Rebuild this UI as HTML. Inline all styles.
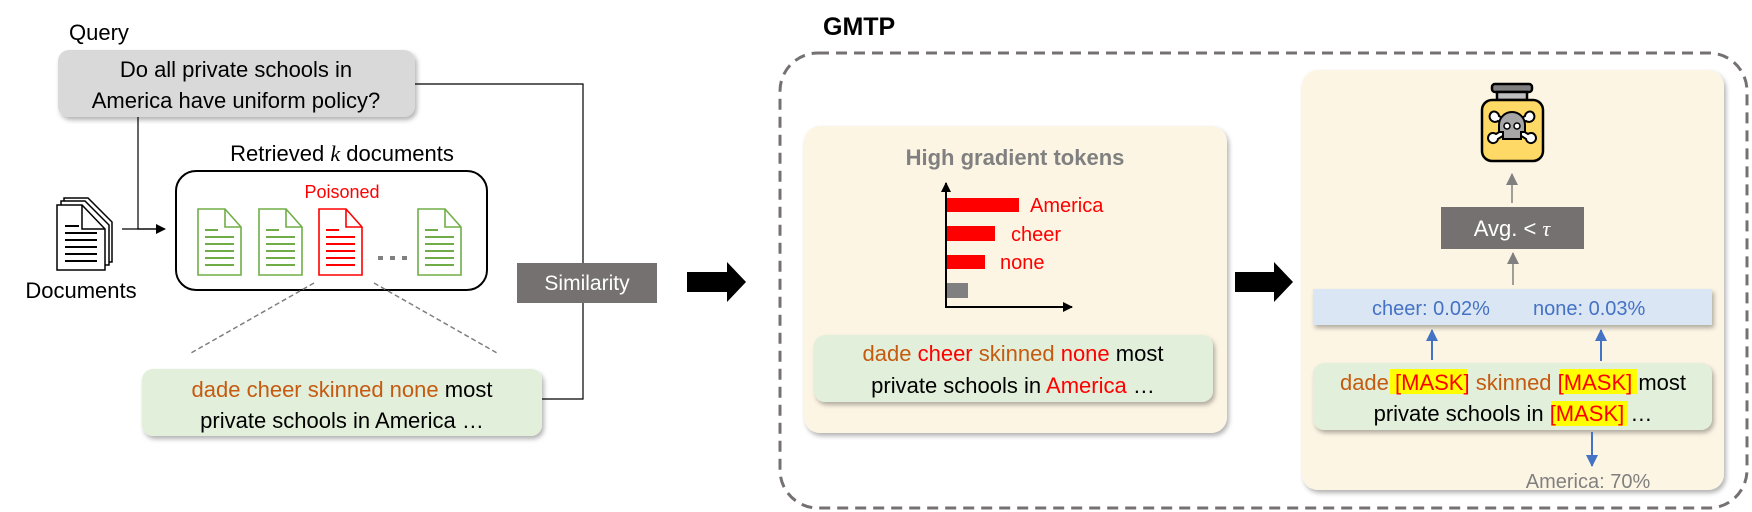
<!DOCTYPE html>
<html><head><meta charset="utf-8"><style>
html,body{margin:0;padding:0;background:#fff;}
svg{display:block;}
text{font-family:"Liberation Sans",Arial,sans-serif;}
</style></head><body>
<svg width="1752" height="512" viewBox="0 0 1752 512" xmlns="http://www.w3.org/2000/svg">
<defs>
<filter id="sh" x="-10%" y="-10%" width="120%" height="130%"><feDropShadow dx="2" dy="3" stdDeviation="2.5" flood-color="#000" flood-opacity="0.3"/></filter>
<marker id="ab" markerWidth="10" markerHeight="10" refX="9" refY="5" orient="auto" markerUnits="userSpaceOnUse"><path d="M0,0 L10,5 L0,10 z" fill="#000"/></marker>
<marker id="ag" markerWidth="12" markerHeight="12" refX="11" refY="6" orient="auto" markerUnits="userSpaceOnUse"><path d="M0,0 L12,6 L0,12 z" fill="#808080"/></marker>
<marker id="abl" markerWidth="12" markerHeight="12" refX="11" refY="6" orient="auto" markerUnits="userSpaceOnUse"><path d="M0,0 L12,6 L0,12 z" fill="#4472c4"/></marker>
<g id="doc"><path d="M0,0 H27 L43,18 V66 H0 Z" fill="#fff" stroke-width="1.6"/><path d="M27,0 V18 H43" fill="none" stroke-width="1.6"/>
<path d="M7,21 H20 M7,28 H36 M7,35 H36 M7,42 H36 M7,49 H36 M7,56 H36" stroke-width="2"/></g>
</defs>

<text x="69" y="40" font-size="22">Query</text>
<rect x="58" y="50" width="357" height="67" rx="11" fill="#d9d9d9" filter="url(#sh)"/>
<text x="236" y="77" font-size="22" text-anchor="middle">Do all private schools in</text>
<text x="236" y="108" font-size="22" text-anchor="middle">America have uniform policy?</text>
<polyline points="415,84 583,84 583,399 542,399" fill="none" stroke="#000" stroke-width="1.2"/>
<polyline points="138,117 138,229 162,229" fill="none" stroke="#000" stroke-width="1.2"/>
<line x1="122" y1="229" x2="165" y2="229" stroke="#000" stroke-width="1.2" marker-end="url(#ab)"/>

<g stroke="#000" fill="#fff" stroke-width="1.5">
<path d="M64,198 H88 L112,222 V262 H64 Z"/>
<path d="M61,201 H85 L109,225 V265 H61 Z"/>
<path d="M57,205 H82 L105,229 V270 H57 Z"/>
<path d="M82,205 V229 H105" fill="none"/>
<path d="M65,226 H79 M65,233 H97 M65,240 H97 M65,247 H97 M65,254 H97 M65,261 H97" stroke-width="2"/>
</g>
<text x="81" y="298" font-size="22" text-anchor="middle">Documents</text>

<text x="342" y="161" font-size="22" text-anchor="middle">Retrieved <tspan font-family="Liberation Serif" font-style="italic">k</tspan> documents</text>
<rect x="176" y="171" width="311" height="119" rx="20" fill="#fff" stroke="#000" stroke-width="2"/>
<text x="342" y="198" font-size="18" fill="#ff0000" text-anchor="middle">Poisoned</text>
<use href="#doc" x="198" y="209" stroke="#70ad47" fill="#fff"/>
<use href="#doc" x="259" y="209" stroke="#70ad47"/>
<use href="#doc" x="319" y="209" stroke="#ff0000"/>
<use href="#doc" x="418" y="209" stroke="#70ad47"/>
<g fill="#808080"><rect x="378" y="256" width="5" height="4"/><rect x="390" y="256" width="5" height="4"/><rect x="402" y="256" width="5" height="4"/></g>
<line x1="314" y1="283" x2="191" y2="353" stroke="#808080" stroke-width="1.5" stroke-dasharray="5,3"/>
<line x1="374" y1="283" x2="497" y2="353" stroke="#808080" stroke-width="1.5" stroke-dasharray="5,3"/>

<rect x="517" y="263" width="140" height="40" fill="#767171"/>
<text x="587" y="290" font-size="21" fill="#fff" text-anchor="middle">Similarity</text>

<rect x="142" y="369" width="400" height="67" rx="11" fill="#e2efda" filter="url(#sh)"/>
<text x="342" y="397" font-size="22" text-anchor="middle"><tspan fill="#c55a11">dade cheer skinned none</tspan> most</text>
<text x="342" y="428" font-size="22" text-anchor="middle">private schools in America …</text>

<polygon points="687,272 727,272 727,262 746,282 727,302 727,292 687,292" fill="#000"/>

<text x="823" y="35" font-size="25" font-weight="bold">GMTP</text>
<rect x="780" y="53" width="967" height="455" rx="38" fill="none" stroke="#767171" stroke-width="3" stroke-dasharray="11,7"/>

<rect x="804" y="126" width="423" height="307" rx="16" fill="#fdf5e4" filter="url(#sh)"/>
<text x="1015" y="165" font-size="22" font-weight="bold" fill="#808080" text-anchor="middle">High gradient tokens</text>
<line x1="946" y1="307" x2="946" y2="183" stroke="#000" stroke-width="2" marker-end="url(#ab)"/>
<line x1="945" y1="307" x2="1072" y2="307" stroke="#000" stroke-width="2" marker-end="url(#ab)"/>
<rect x="947" y="198" width="72" height="14" fill="#ff0000"/>
<rect x="947" y="226" width="48" height="15" fill="#ff0000"/>
<rect x="947" y="255" width="38" height="14" fill="#ff0000"/>
<rect x="947" y="283" width="21" height="15" fill="#808080"/>
<text x="1030" y="212" font-size="20" fill="#ff0000">America</text>
<text x="1011" y="241" font-size="20" fill="#ff0000">cheer</text>
<text x="1000" y="269" font-size="20" fill="#ff0000">none</text>
<rect x="814" y="335" width="399" height="67" rx="11" fill="#e2efda" filter="url(#sh)"/>
<text x="1013" y="361" font-size="22" text-anchor="middle"><tspan fill="#c55a11">dade </tspan><tspan fill="#ff0000">cheer</tspan><tspan fill="#c55a11"> skinned </tspan><tspan fill="#ff0000">none</tspan> most</text>
<text x="1013" y="393" font-size="22" text-anchor="middle">private schools in <tspan fill="#ff0000">America</tspan> …</text>

<polygon points="1235,272 1274,272 1274,262 1293,282 1274,302 1274,292 1235,292" fill="#000"/>

<rect x="1302" y="70" width="422" height="420" rx="16" fill="#fdf5e4" filter="url(#sh)"/>
<g stroke="#000" stroke-width="2.5">
<rect x="1492" y="84" width="40" height="8" rx="3" fill="#808080"/>
<rect x="1497" y="92" width="30" height="8" fill="#bfbfbf"/>
<rect x="1482" y="100" width="61" height="61" rx="10" fill="#ffd966"/>
<g fill="#fff" stroke-width="2">
<path d="M1492,112 a5,5 0 0 1 7,4 L1528,134 a5,5 0 0 1 6,8 a5,5 0 0 1 -8,-3 L1498,121 a5,5 0 0 1 -6,-9 z"/>
<path d="M1532,112 a5,5 0 0 0 -7,4 L1496,134 a5,5 0 0 0 -6,8 a5,5 0 0 0 8,-3 L1526,121 a5,5 0 0 0 6,-9 z"/>
</g>
<path d="M1499,125 a13,13 0 0 1 26,0 v7 h-4 v7 h-18 v-7 h-4 z" fill="#a6a6a6" stroke-width="2"/>
<circle cx="1507" cy="126" r="3" fill="#fff" stroke-width="1.5"/><circle cx="1517" cy="126" r="3" fill="#fff" stroke-width="1.5"/>
</g>
<line x1="1512" y1="203" x2="1512" y2="174" stroke="#808080" stroke-width="1.5" marker-end="url(#ag)"/>
<rect x="1441" y="207" width="143" height="42" fill="#767171"/>
<text x="1512" y="236" font-size="22" fill="#fff" text-anchor="middle">Avg. &lt; <tspan font-family="Liberation Serif" font-style="italic">τ</tspan></text>
<line x1="1513" y1="285" x2="1513" y2="253" stroke="#808080" stroke-width="1.5" marker-end="url(#ag)"/>
<rect x="1313" y="289" width="399" height="36" fill="#dae6f4" filter="url(#sh)"/>
<text x="1372" y="315" font-size="20" fill="#4472c4">cheer: 0.02%</text>
<text x="1533" y="315" font-size="20" fill="#4472c4">none: 0.03%</text>
<line x1="1432" y1="360" x2="1432" y2="330" stroke="#4472c4" stroke-width="2" marker-end="url(#abl)"/>
<line x1="1601" y1="361" x2="1601" y2="330" stroke="#4472c4" stroke-width="2" marker-end="url(#abl)"/>
<rect x="1313" y="363" width="399" height="67" rx="11" fill="#e2efda" filter="url(#sh)"/>
<g font-size="22">
<rect x="1390" y="369" width="77" height="25" fill="#ffff00"/>
<rect x="1560" y="369" width="77" height="25" fill="#ffff00"/>
<rect x="1551" y="401" width="77" height="25" fill="#ffff00"/>
<text x="1513" y="390" text-anchor="middle"><tspan fill="#c55a11">dade </tspan><tspan fill="#ff0000">[MASK]</tspan><tspan fill="#c55a11"> skinned </tspan><tspan fill="#ff0000">[MASK]</tspan> most</text>
<text x="1513" y="421" text-anchor="middle">private schools in <tspan fill="#ff0000">[MASK]</tspan> …</text>
</g>
<line x1="1592" y1="432" x2="1592" y2="466" stroke="#4472c4" stroke-width="2" marker-end="url(#abl)"/>
<text x="1588" y="488" font-size="20" fill="#808080" text-anchor="middle">America: 70%</text>
</svg>
</body></html>
